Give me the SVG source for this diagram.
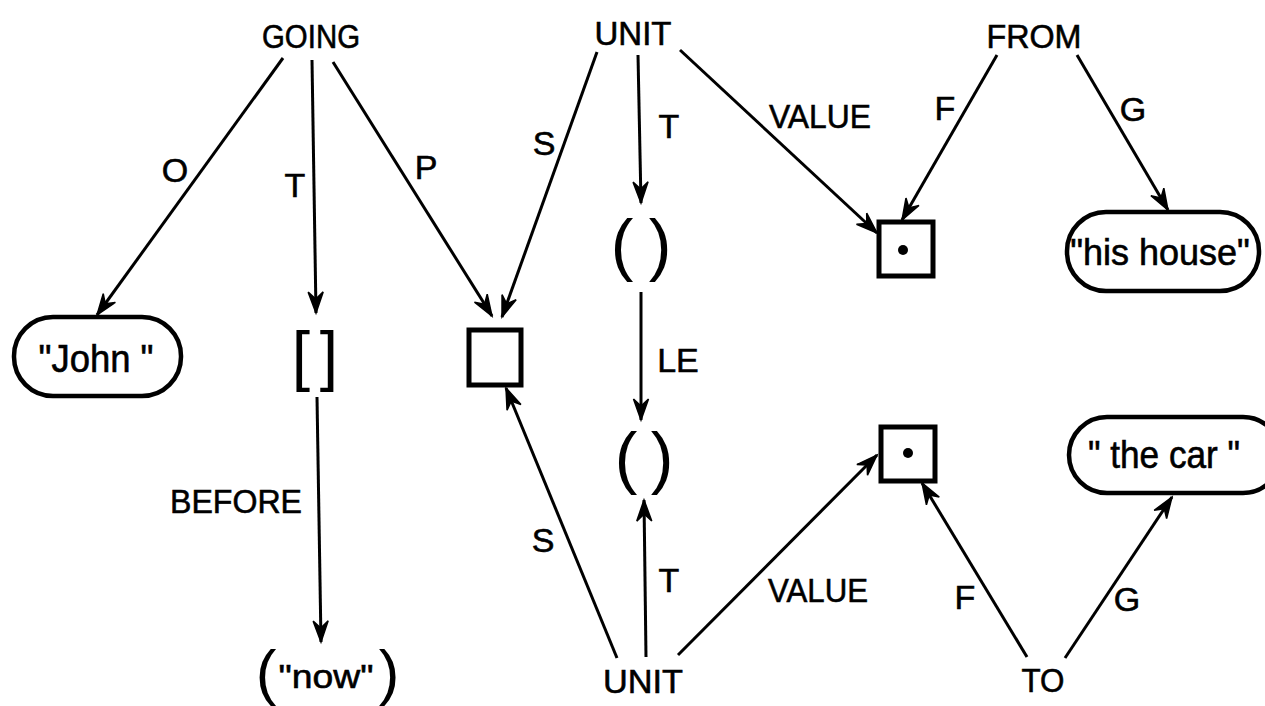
<svg xmlns="http://www.w3.org/2000/svg" width="1265" height="706" viewBox="0 0 1265 706">
<defs>
<marker id="ah" markerUnits="userSpaceOnUse" markerWidth="24" markerHeight="18" refX="21" refY="8" orient="auto" overflow="visible">
<path d="M0,0.5 L21,8 L0,15.5 L7,8 Z" fill="#000" stroke="#000" stroke-width="1.5" stroke-linejoin="miter"/>
</marker>
<style>
.lbl{font-family:"Liberation Sans",Arial,sans-serif;font-size:34px;fill:#000;text-anchor:middle;stroke:#000;stroke-width:0.6}
.edge{stroke:#000;stroke-width:3;fill:none;marker-end:url(#ah)}
.pill{fill:#fff;stroke:#000;stroke-width:4.5}
.box{fill:#fff;stroke:#000;stroke-width:5}
.par{font-family:"Liberation Sans",Arial,sans-serif;fill:#000;text-anchor:middle}
.str{font-family:"Liberation Sans",Arial,sans-serif;fill:#000;text-anchor:middle;stroke:#000;stroke-width:0.6}
</style>
</defs>
<rect width="1265" height="706" fill="#fff"/>
<g id="connectors">
<line class="edge" x1="283" y1="58" x2="97" y2="315"/>
<line class="edge" x1="312" y1="60" x2="316" y2="313"/>
<line class="edge" x1="333" y1="62" x2="492" y2="316"/>
<line class="edge" x1="597" y1="52" x2="502" y2="317"/>
<line class="edge" x1="638" y1="55" x2="641" y2="203"/>
<line class="edge" x1="680" y1="50" x2="877" y2="233"/>
<line class="edge" x1="997" y1="55" x2="902" y2="220"/>
<line class="edge" x1="1077" y1="55" x2="1168" y2="210"/>
<line class="edge" x1="641" y1="292" x2="641" y2="420"/>
<line class="edge" x1="317" y1="397" x2="321" y2="642"/>
<line class="edge" x1="617" y1="658" x2="506" y2="388"/>
<line class="edge" x1="646" y1="657" x2="644" y2="500"/>
<line class="edge" x1="678" y1="655" x2="877" y2="455"/>
<line class="edge" x1="1027" y1="657" x2="922" y2="483"/>
<line class="edge" x1="1065" y1="658" x2="1172" y2="497"/>
<text class="lbl" x="175" y="182">O</text>
<text class="lbl" x="295" y="197">T</text>
<text class="lbl" x="426" y="179">P</text>
<text class="lbl" x="544" y="155">S</text>
<text class="lbl" x="669" y="138">T</text>
<text class="lbl" x="820" y="128" textLength="102" lengthAdjust="spacingAndGlyphs">VALUE</text>
<text class="lbl" x="945" y="120">F</text>
<text class="lbl" x="1133" y="121">G</text>
<text class="lbl" x="678" y="372">LE</text>
<text class="lbl" x="236" y="513" textLength="132" lengthAdjust="spacingAndGlyphs">BEFORE</text>
<text class="lbl" x="543" y="552">S</text>
<text class="lbl" x="669" y="592">T</text>
<text class="lbl" x="818" y="602" textLength="100" lengthAdjust="spacingAndGlyphs">VALUE</text>
<text class="lbl" x="965" y="609">F</text>
<text class="lbl" x="1127" y="611">G</text>
</g>
<g id="going"><text class="lbl" x="311" y="48" textLength="98" lengthAdjust="spacingAndGlyphs">GOING</text></g>
<g id="unit-top"><text class="lbl" x="633" y="45" textLength="77" lengthAdjust="spacingAndGlyphs">UNIT</text></g>
<g id="from"><text class="lbl" x="1034" y="48" textLength="95" lengthAdjust="spacingAndGlyphs">FROM</text></g>
<g id="john"><rect class="pill" x="14" y="317" width="167" height="79" rx="39"/><text class="str" x="96" y="372" font-size="38" textLength="115" lengthAdjust="spacingAndGlyphs">"John "</text></g>
<g id="bracket"><text class="par" x="301" y="378" font-size="66">[</text><text class="par" x="329" y="378" font-size="66">]</text></g>
<g id="box"><rect class="box" x="469" y="330" width="52" height="55"/></g>
<g id="paren-top"><text class="par" x="622" y="268" font-size="68">(</text><text class="par" x="660" y="268" font-size="68">)</text></g>
<g id="paren-bottom"><text class="par" x="626" y="481" font-size="68">(</text><text class="par" x="662" y="481" font-size="68">)</text></g>
<g id="dotbox-top"><rect class="box" x="879" y="222" width="54" height="54" stroke-width="4"/><circle cx="903" cy="250" r="5"/></g>
<g id="dotbox-bottom"><rect class="box" x="881" y="427" width="54" height="54" stroke-width="4"/><circle cx="908" cy="453" r="5"/></g>
<g id="his-house"><rect class="pill" x="1067" y="212" width="192" height="79" rx="39"/><text class="str" x="1160" y="265" font-size="36">"his house"</text></g>
<g id="the-car"><rect class="pill" x="1069" y="417" width="212" height="76" rx="38"/><text class="str" x="1164" y="468" font-size="38" textLength="152" lengthAdjust="spacingAndGlyphs">" the car "</text></g>
<g id="now"><text class="par" x="266" y="693" font-size="62">(</text><text class="str" x="326" y="688" font-size="34" textLength="95" lengthAdjust="spacingAndGlyphs">"now"</text><text class="par" x="389" y="693" font-size="62">)</text></g>
<g id="unit-bottom"><text class="lbl" x="643" y="693" textLength="80" lengthAdjust="spacingAndGlyphs">UNIT</text></g>
<g id="to"><text class="lbl" x="1043" y="692" textLength="43" lengthAdjust="spacingAndGlyphs">TO</text></g>
</svg>
